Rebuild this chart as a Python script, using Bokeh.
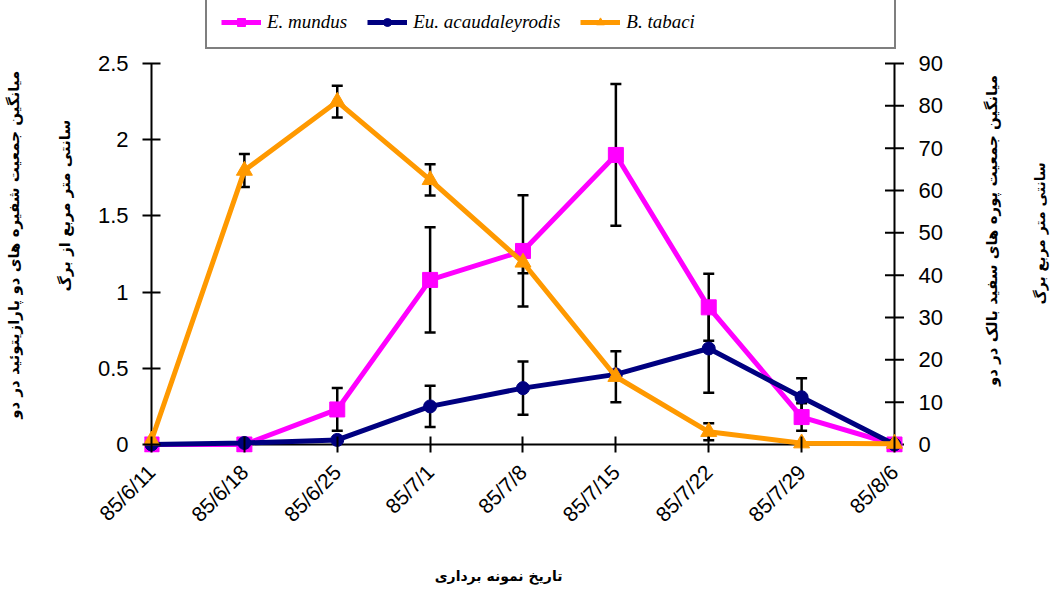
from math import pi
from bokeh.plotting import figure
from bokeh.core.properties import value
from bokeh.models import (Range1d, LinearAxis, FixedTicker, NumeralTickFormatter, Whisker,
                          TeeHead, ColumnDataSource, Legend, LegendItem, Label,
                          CustomJSTickFormatter)
from bokeh.embed import file_html
from bokeh.resources import INLINE

# ---------------- data ----------------
dates = ["85/6/11", "85/6/18", "85/6/25", "85/7/1", "85/7/8",
         "85/7/15", "85/7/22", "85/7/29", "85/8/6"]
e_mundus = [0.0, 0.0, 0.23, 1.08, 1.27, 1.90, 0.90, 0.18, 0.0]
e_mundus_err = [0.0, 0.0, 0.14, 0.345, 0.365, 0.465, 0.22, 0.09, 0.0]
eu_acaud = [0.0, 0.01, 0.03, 0.25, 0.37, 0.46, 0.63, 0.31, 0.0]
eu_acaud_err = [0.0, 0.0, 0.0, 0.135, 0.175, 0.0, 0.29, 0.125, 0.0]
b_tabaci = [1.0, 64.7, 81.0, 62.5, 43.0, 16.0, 3.0, 0.3, 0.2]
b_tabaci_err = [0.0, 3.9, 3.75, 3.7, 2.55, 6.0, 2.0, 0.0, 0.0]

left_ticks = [0, 0.5, 1, 1.5, 2, 2.5]
right_ticks = [0, 10, 20, 30, 40, 50, 60, 70, 80, 90]

series_names = ["E. mundus", "Eu. acaudaleyrodis", "B. tabaci"]
colors = ["#FF00FF", "#000080", "#FF9900"]

left_title = ["میانگین جمعیت شفیره های دو پارازیتوئید در دو", "سانتی متر مربع از برگ"]
right_title = ["میانگین جمعیت پوره های سفید بالک در دو", "سانتی متر مربع برگ"]
x_title = "تاریخ نمونه برداری"

x = list(range(len(dates)))
n_last = len(dates) - 1
NB = "\u00a0"

# ---------------- figure ----------------
XPAD = 0.0754          # room so end markers are not cut
XEND = 9.7013          # frame runs to the right edge (right axis + titles drawn inside)
YPAD = 0.0525
YTOP = 2.9134          # frame reaches the top of the canvas (room for the legend)
RSCALE = right_ticks[-1] / left_ticks[-1]
p = figure(width=1052, height=590, output_backend="svg", toolbar_location=None,
           x_range=Range1d(-XPAD, XEND),
           y_range=Range1d(-YPAD, YTOP),
           min_border_left=144, min_border_right=0,
           min_border_top=0, min_border_bottom=138)
p.extra_y_ranges = {"right": Range1d(-YPAD * RSCALE, YTOP * RSCALE)}
p.outline_line_color = None
p.xgrid.visible = False
p.ygrid.visible = False

TICK_FONT = "Liberation Sans"
TITLE_FONT = "DejaVu Sans"

# bottom axis
xa = p.xaxis[0]
xa.ticker = FixedTicker(ticks=x)
xa.formatter = CustomJSTickFormatter(args=dict(labels=dates),
                                     code="return labels[Math.round(tick)] || '';")
xa.major_label_orientation = pi / 4

# left axis
ya = p.yaxis[0]
ya.ticker = FixedTicker(ticks=left_ticks)
ya.formatter = NumeralTickFormatter(format="0.[0]")

for ax in (xa, ya):
    ax.axis_line_color = None
    ax.major_tick_line_color = "black"
    ax.major_tick_line_width = 2
    ax.minor_tick_line_color = None
    ax.major_label_text_font = TICK_FONT
    ax.major_label_text_color = "black"
ya.major_tick_in = 16
ya.major_tick_out = 2
ya.major_label_standoff = 14
ya.major_label_text_font_size = "22px"
xa.major_tick_in = 16
xa.major_tick_out = 0
xa.major_label_standoff = 16
xa.major_label_text_font_size = "21px"

# right axis (secondary scale), drawn on the "right" range
p.scatter([x[-1]] * len(right_ticks), right_ticks, marker="dash", size=19,
          line_color="black", line_width=2, y_range_name="right")
p.text([x[-1]] * len(right_ticks), right_ticks, text=[str(t) for t in right_ticks],
       x_offset=24, text_align="left", text_baseline="middle",
       text_font=value(TICK_FONT), text_font_size="22px", text_color="black",
       y_range_name="right")

# title axes (label only) on the left and below
def title_axis(side, text, standoff, size="14px"):
    ax = LinearAxis()
    ax.ticker = FixedTicker(ticks=[])
    ax.axis_line_color = None
    ax.major_tick_line_color = None
    ax.minor_tick_line_color = None
    ax.major_tick_in = 0
    ax.major_tick_out = 0
    ax.minor_tick_out = 0
    ax.major_label_standoff = 0
    ax.axis_label = text
    ax.axis_label_standoff = standoff
    ax.axis_label_text_font = TITLE_FONT
    ax.axis_label_text_font_size = size
    ax.axis_label_text_font_style = "bold"
    ax.axis_label_text_color = "black"
    p.add_layout(ax, side)
    return ax

# non-breaking spaces only nudge the centred titles along their axis
title_axis("left", NB * 8 + left_title[1], 21, "15px")
title_axis("left", left_title[0] + NB * 7, 30, "15px")
title_axis("below", x_title + NB * 41, 30)

# right-hand titles (inside the extended frame)
for xv, yv, txt, fs in [(9.055, 1.404, right_title[0], "15px"),
                        (9.572, 1.385, right_title[1], "14px")]:
    p.add_layout(Label(x=xv, y=yv, text=txt, angle=pi / 2, text_align="center",
                       text_baseline="middle", text_font=TITLE_FONT, text_font_size=fs,
                       text_font_style="bold", text_color="black"))

# axis lines at the data origin / ends
p.segment(x0=[x[0], x[0], x[-1]], y0=[left_ticks[0]] * 3,
          x1=[x[-1], x[0], x[-1]], y1=[left_ticks[0], left_ticks[-1], left_ticks[-1]],
          line_color="black", line_width=2)

# ---------------- error bars ----------------
def add_whisker(vals, errs, range_name="default"):
    xs = [xi for xi, e in zip(x, errs) if e > 0]
    up = [v + e for v, e in zip(vals, errs) if e > 0]
    lo = [v - e for v, e in zip(vals, errs) if e > 0]
    src = ColumnDataSource(dict(x=xs, upper=up, lower=lo))
    w = Whisker(base="x", upper="upper", lower="lower", source=src,
                line_color="black", line_width=2.5,
                upper_head=TeeHead(size=11, line_color="black", line_width=2.5),
                lower_head=TeeHead(size=11, line_color="black", line_width=2.5),
                y_range_name=range_name)
    p.add_layout(w)

add_whisker(e_mundus, e_mundus_err)
add_whisker(eu_acaud, eu_acaud_err)
add_whisker(b_tabaci, b_tabaci_err, "right")

# ---------------- series ----------------
l1 = p.line(x, e_mundus, line_color=colors[0], line_width=5)
s1 = p.scatter(x, e_mundus, marker="square", size=15, fill_color=colors[0], line_color=colors[0])
l2 = p.line(x, eu_acaud, line_color=colors[1], line_width=5)
s2 = p.scatter(x, eu_acaud, marker="circle", size=13, fill_color=colors[1], line_color=colors[1])
l3 = p.line(x, b_tabaci, line_color=colors[2], line_width=5, y_range_name="right")
s3 = p.scatter(x, b_tabaci, marker="triangle", size=16, fill_color=colors[2], line_color=colors[2],
               y_range_name="right")
dummy = p.scatter([], [], marker="square", size=1, fill_alpha=0, line_alpha=0)

legend = Legend(items=[
    LegendItem(label=series_names[0], renderers=[l1, s1]),
    LegendItem(label=series_names[1], renderers=[l2, s2]),
    LegendItem(label=series_names[2], renderers=[l3, s3]),
    LegendItem(label=NB * 25, renderers=[dummy]),
], orientation="horizontal", location=(61, 403), margin=0, padding=14, spacing=20,
    glyph_width=40, glyph_height=20, label_standoff=6,
    border_line_color="black", border_line_width=2, background_fill_color="white",
    background_fill_alpha=1,
    label_text_font="Liberation Serif", label_text_font_style="italic",
    label_text_font_size="19px", label_text_color="black")
p.add_layout(legend, "center")

open("out.html", "w").write(file_html(p, INLINE))
